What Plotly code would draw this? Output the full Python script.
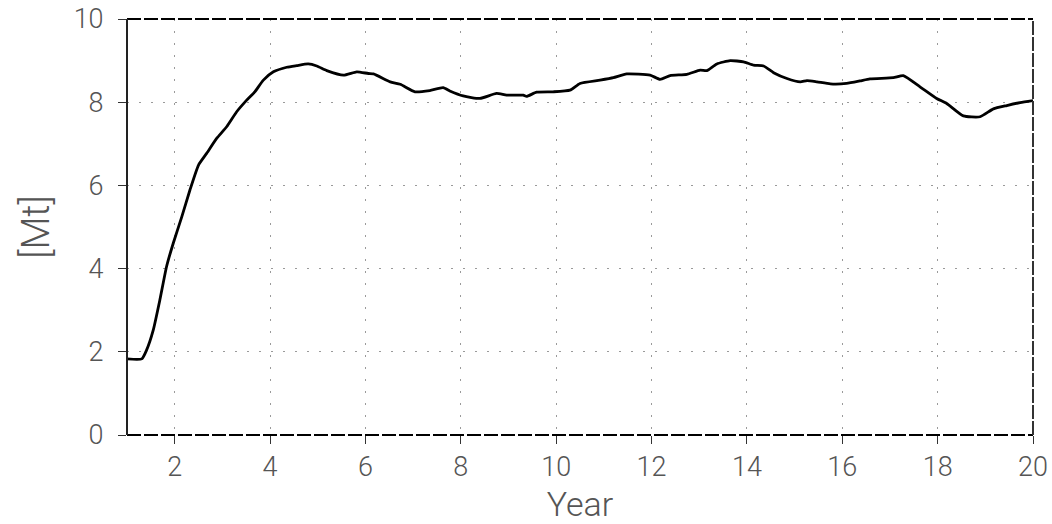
import plotly.graph_objects as go

years = [1.0, 1.31, 1.41, 1.55, 1.69, 1.83, 1.97, 2.15, 2.32, 2.50, 2.67, 2.88, 3.09, 3.30, 3.51,
         3.68, 3.86, 4.07, 4.35, 4.56, 4.80, 4.98, 5.19, 5.54, 5.82, 6.06, 6.17, 6.52, 6.73, 7.04,
         7.35, 7.63, 7.77, 8.05, 8.40, 8.75, 8.96, 9.31, 9.38, 9.59, 9.94, 10.29, 10.50, 10.92,
         11.20, 11.48, 11.97, 12.18, 12.39, 12.74, 13.02, 13.16, 13.37, 13.65, 13.93, 14.14,
         14.35, 14.56, 14.84, 15.12, 15.26, 15.47, 15.75, 16.09, 16.37, 16.58, 17.07, 17.28,
         17.63, 17.98, 18.19, 18.54, 18.89, 19.17, 19.45, 19.73, 20.0]
mt = [1.83, 1.83, 2.04, 2.52, 3.25, 4.05, 4.61, 5.25, 5.89, 6.49, 6.77, 7.13, 7.41, 7.77, 8.05,
      8.25, 8.53, 8.73, 8.84, 8.88, 8.92, 8.87, 8.76, 8.65, 8.73, 8.69, 8.68, 8.49, 8.43, 8.25,
      8.28, 8.35, 8.27, 8.15, 8.09, 8.21, 8.17, 8.17, 8.14, 8.24, 8.25, 8.29, 8.45, 8.53,
      8.59, 8.68, 8.65, 8.55, 8.64, 8.67, 8.77, 8.76, 8.92, 9.00, 8.97, 8.89,
      8.87, 8.71, 8.57, 8.49, 8.52, 8.49, 8.44, 8.45, 8.51, 8.56, 8.59, 8.64,
      8.37, 8.09, 7.97, 7.67, 7.65, 7.84, 7.92, 7.99, 8.04]

x_ticks = [2, 4, 6, 8, 10, 12, 14, 16, 18, 20]
y_ticks = [0, 2, 4, 6, 8, 10]

fig = go.Figure()
fig.add_trace(go.Scatter(x=years, y=mt, mode="lines",
                         line=dict(color="black", width=2.8, shape="spline", smoothing=0.5),
                         showlegend=False, hoverinfo="skip"))

font_family = "Roboto Light, Roboto"
txt_color = "#555"
grid_style = dict(showgrid=True, gridcolor="#9a9a9a", gridwidth=1, griddash="2px,10px")

fig.update_xaxes(range=[1, 20], tickvals=x_ticks, ticks="outside", ticklen=8, tickwidth=1,
                 tickcolor="#333", zeroline=False, showline=False, ticklabelstandoff=0,
                 tickfont=dict(family=font_family, size=27, color=txt_color, weight=300),
                 title=dict(text="Year", font=dict(family=font_family, size=34, color=txt_color,
                                                   weight=300),
                            standoff=16),
                 **grid_style)
fig.update_yaxes(range=[0, 10], tickvals=y_ticks, ticks="outside", ticklen=8, tickwidth=1,
                 tickcolor="#333", zeroline=False, showline=False, ticklabelstandoff=9,
                 tickfont=dict(family=font_family, size=27, color=txt_color, weight=300),
                 title=dict(text="[Mt]", font=dict(family=font_family, size=38, color=txt_color,
                                                   weight=300),
                            standoff=12),
                 **grid_style)

shapes = [
    dict(type="line", xref="paper", yref="paper", x0=0, y0=0, x1=1, y1=0,
         line=dict(color="black", width=2, dash="14px,3px")),
    dict(type="line", xref="paper", yref="paper", x0=0, y0=1, x1=1, y1=1,
         line=dict(color="black", width=2, dash="14px,3px")),
    dict(type="line", xref="paper", yref="paper", x0=0, y0=0, x1=0, y1=1,
         line=dict(color="#222", width=2)),
    dict(type="line", xref="paper", yref="paper", x0=1, y0=0, x1=1, y1=1,
         line=dict(color="#333", width=2, dash="14px,2px")),
]

fig.update_layout(width=1052, height=524, margin=dict(l=127, r=19, t=19, b=89, autoexpand=False),
                  plot_bgcolor="white", paper_bgcolor="white", shapes=shapes)

fig.write_html("out.html", config={"displayModeBar": False},
               post_script="document.body.style.margin='0';document.body.style.overflow='hidden';")
